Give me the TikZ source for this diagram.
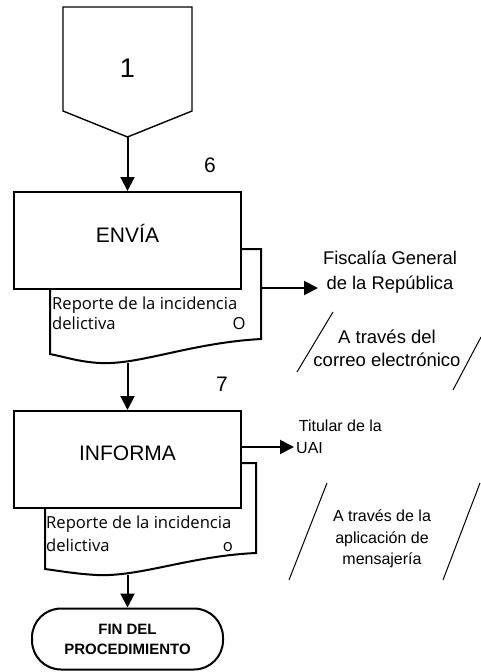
\documentclass[tikz,border=0pt]{standalone}
\usepackage{fontspec}
\setmainfont{Liberation Sans}
\newfontfamily\docfont{Open Sans}
\usetikzlibrary{arrows.meta,calc}

\tikzset{
  proc/.style={draw,line width=2pt,fill=white,minimum width=227pt,minimum height=97pt,inner sep=0pt},
  flow/.style={line width=2pt,-{Triangle[length=14pt,width=14pt]}},
  doc/.style={draw,line width=2pt,fill=white},
  via/.style={line width=1pt},
  big/.style={font=\fontsize{21}{24}\selectfont},
  txt/.style={font=\fontsize{18.4}{25}\selectfont,align=center,inner sep=0pt},
  small/.style={font=\fontsize{16}{21.5}\selectfont,align=center,inner sep=0pt},
  doctxt/.style={font=\docfont\fontsize{16.6}{20}\selectfont,anchor=base west,inner sep=0pt}
}

\begin{document}
\begin{tikzpicture}[x=1pt,y=-1pt]
\useasboundingbox (0,0) rectangle (481,672);

% conector de pagina
\draw[line width=1.4pt] (63,7) -- (192,7) -- (192,111) -- (127.5,137) coordinate (pag) -- (63,111) -- cycle;
\node[font=\fontsize{27}{30}\selectfont] (uno) at (127.5,68) {1};

% actividad 6
\node[big] (n6) at (210,165) {6};
\draw[doc] (50,249) -- (261,249) -- (261,339) .. controls (190,343) and (140,365) .. (100,363)
  .. controls (80,362) and (65,357) .. (50,354) -- cycle;
\node[proc] (envia) at (127.5,240.5) {};
\node[big] (enviatxt) at ([yshift=7pt]envia.center) {ENVÍA};
\node[doctxt] (rep1) at (52,309) {Reporte de la incidencia};
\node[doctxt] (del1) at (52,329) {delictiva};
\node[doctxt,anchor=base] (o1) at (239,329) {O};
\coordinate (doc1b) at (127.5,363);
\coordinate (doc1r) at (261,288);
\coordinate (fgrin) at (318,288);

\node[txt] (fgr) at (390,272) {Fiscalía General\\de la República};
\draw[via] (333,312) -- (297,372);
\draw[via] (481,337) -- (453,390);
\node[txt,font=\fontsize{18.5}{23}\selectfont] (correo) at (387,348) {A través del\\correo electrónico};

% actividad 7
\node[big] (n7) at (222,384) {7};
\draw[doc] (45,463) -- (256,463) -- (256,553) .. controls (190,556) and (140,577) .. (97,575)
  .. controls (77,574) and (60,571) .. (45,569) -- cycle;
\node[proc] (informa) at (127.5,459.5) {};
\node[big] (informatxt) at ([yshift=6.5pt]informa.center) {INFORMA};
\node[doctxt] (rep2) at (46,528) {Reporte de la incidencia};
\node[doctxt] (del2) at (46,551) {delictiva};
\node[doctxt,anchor=base] (o2) at (228,551) {o};
\coordinate (doc2b) at (127.5,575);
\coordinate (infr) at (241,447);
\coordinate (uaiin) at (294,447);

\node[small,align=left,anchor=north west] (uai) at (296,420) {\,Titular de la\\UAI};
\draw[via] (327,483) -- (289,580);
\draw[via] (480,483) -- (443,580);
\node[small] (app) at (382,539) {A través de la\\aplicación de\\mensajería};

% fin
\node[draw,line width=2pt,rounded corners=29pt,minimum width=191pt,minimum height=61pt,
  align=center,font=\bfseries\fontsize{15}{20}\selectfont] (fin) at (127.5,639) {FIN DEL\\PROCEDIMIENTO};

% flechas
\draw[flow] (pag) -- (envia.north);
\draw[flow] (doc1b) -- (informa.north);
\draw[flow] (doc2b) -- (fin.north);
\draw[flow] (doc1r) -- (fgrin);
\draw[flow] (infr) -- (uaiin);
\end{tikzpicture}
\end{document}
